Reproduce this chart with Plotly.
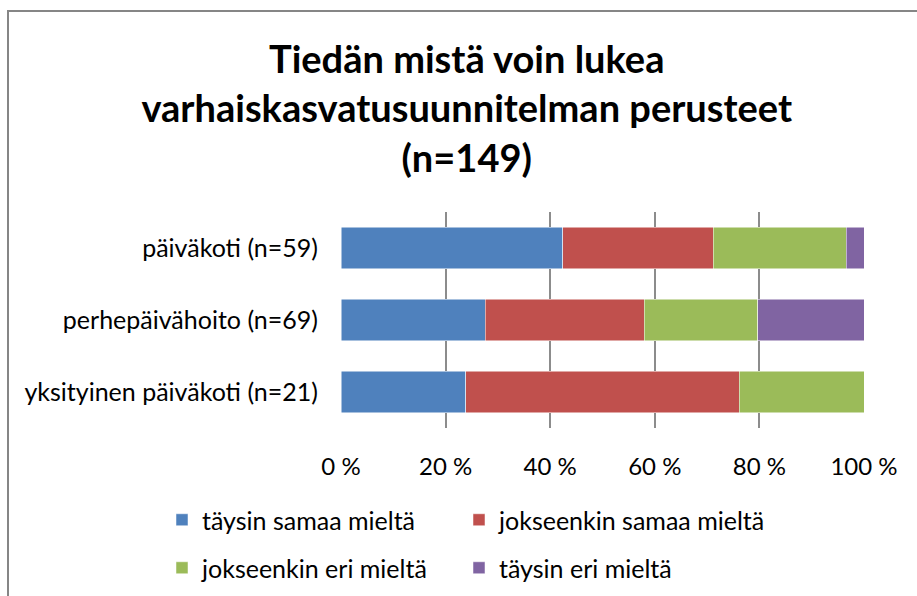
"""100 % stacked bar chart: Tiedän mistä voin lukea varhaiskasvatusuunnitelman perusteet."""

import plotly.graph_objects as go

categories = [
    "päiväkoti (n=59)",
    "perhepäivähoito (n=69)",
    "yksityinen päiväkoti (n=21)",
]
series_names = [
    "täysin samaa mieltä",
    "jokseenkin samaa mieltä",
    "jokseenkin eri mieltä",
    "täysin eri mieltä",
]
# answer counts per category, in the order of `categories`
taysin_samaa = [25, 19, 5]
jokseenkin_samaa = [17, 21, 11]
jokseenkin_eri = [15, 15, 5]
taysin_eri = [2, 14, 0]

tick_values = [0, 20, 40, 60, 80, 100]
tick_labels = ["0 %", "20 %", "40 %", "60 %", "80 %", "100 %"]

colors = ["#4F81BD", "#C0504D", "#9BBB59", "#8064A2"]
legend_ids = ["legend", "legend2", "legend3", "legend4"]
FONT = "Lato"
TEXT_SIZE = 25

figure = go.Figure()
for name, values, color, legend_id in zip(
    series_names,
    [taysin_samaa, jokseenkin_samaa, jokseenkin_eri, taysin_eri],
    colors,
    legend_ids,
):
    figure.add_trace(
        go.Bar(
            y=categories,
            x=values,
            name=name,
            orientation="h",
            marker={"color": color, "line": {"color": "white", "width": 0.5}},
            legend=legend_id,
            showlegend=True,
        )
    )


def legend_at(x_px, y_px):
    # one legend box per entry, placed in plot-area pixels (plot spans x 341-864, y 212-428)
    return {
        "orientation": "h",
        "font": {"family": FONT, "size": TEXT_SIZE, "color": "#000000"},
        "xanchor": "left",
        "yanchor": "middle",
        "x": (x_px - 341) / 523,
        "y": (428 - y_px) / 216,
        "itemwidth": 30,
        "bgcolor": "rgba(0,0,0,0)",
    }


figure.update_layout(
    width=917,
    height=596,
    showlegend=True,
    barmode="stack",
    barnorm="percent",
    bargap=0.43,
    paper_bgcolor="white",
    plot_bgcolor="white",
    margin={"l": 341, "r": 53, "t": 212, "b": 168, "autoexpand": False},
    title={
        "text": "Tiedän mistä voin lukea<br>varhaiskasvatusuunnitelman perusteet<br>(n=149)",
        "font": {"family": FONT, "size": 38, "color": "#000000", "weight": "bold"},
        "x": 0.509,
        "xanchor": "center",
        "y": 1 - 73 / 596,
        "yanchor": "top",
    },
    font={"family": FONT, "size": TEXT_SIZE, "color": "#000000"},
    xaxis={
        "range": [0, 100],
        "tickvals": tick_values,
        "ticktext": tick_labels,
        "showgrid": True,
        "gridcolor": "#8c8c8c",
        "gridwidth": 2,
        "zeroline": False,
        "showline": False,
        "ticks": "",
        "ticklabelstandoff": 22,
        "tickfont": {"family": FONT, "size": 24},
        "fixedrange": True,
    },
    yaxis={
        "autorange": "reversed",
        "showgrid": False,
        "zeroline": False,
        "showline": False,
        "ticks": "",
        "ticklabelstandoff": 22,
        "tickfont": {"family": FONT, "size": TEXT_SIZE},
        "fixedrange": True,
    },
    legend=legend_at(162, 520),
    legend2=legend_at(459, 520),
    legend3=legend_at(162, 568),
    legend4=legend_at(459, 568),
    shapes=[
        {
            "type": "rect",
            "xref": "paper",
            "yref": "paper",
            "x0": (8 - 341) / 523,
            "x1": (1000 - 341) / 523,
            "y0": (428 - 700) / 216,
            "y1": (428 - 11) / 216,
            "line": {"color": "#868686", "width": 2},
            "layer": "below",
        }
    ],
)

# the page body has a default 8px margin; drop it so the chart sits at the origin
figure.write_html(
    "out.html",
    config={"displayModeBar": False},
    post_script="document.body.style.margin = '0';",
)
